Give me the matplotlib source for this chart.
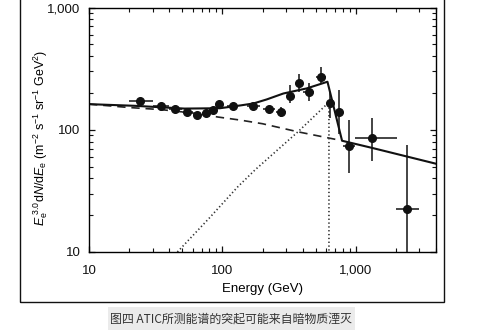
import matplotlib
matplotlib.use("Agg")
import matplotlib.pyplot as plt
from matplotlib.patches import Rectangle
from matplotlib.ticker import LogLocator, FuncFormatter, NullFormatter

plt.rcParams['font.family'] = ['Liberation Sans', 'Noto Sans CJK SC', 'DejaVu Sans']
plt.rcParams['mathtext.fontset'] = 'custom'
plt.rcParams['mathtext.rm'] = 'Liberation Sans'
plt.rcParams['mathtext.it'] = 'Liberation Sans:italic'

# ATIC 数据点 (GeV, m^-2 s^-1 sr^-1 GeV^2)
energy = [24.1, 34.5, 44.2, 54.6, 64.9, 75.5, 84.7, 95, 121, 171, 223, 274,
          324, 374, 445, 547, 646, 751, 892, 1334, 2417]
flux = [173, 155, 146.5, 141, 133, 136, 144.5, 161, 156.7, 156, 147, 141,
        190.6, 242, 204, 269, 167, 139, 73.3, 85.1, 22.3]
e_lo = [20, 30, 40, 50, 60, 70, 80, 90, 108, 152, 203, 253,
        305, 355, 405, 505, 606, 700, 800, 995, 2010]
e_hi = [30, 40, 50, 60, 70, 80, 90, 100, 131, 192, 248, 301,
        345, 395, 488, 600, 689, 800, 995, 2032, 3006]
flux_lo = [167, 150, 142, 137, 129, 132, 140, 156, 151, 150, 136, 127,
           166, 204, 172, 236, 124, 93, 44, 56, 5]
flux_hi = [179, 160, 151, 145, 137, 140, 149, 166, 162, 162, 156, 154,
           232, 285, 239, 327, 204, 211, 120, 124, 74.7]

# 模型曲线
total_e = [10, 22, 52, 96, 136, 171, 215, 287, 430, 614, 790, 1330, 3981]
total_v = [162, 157, 149, 150, 158, 164, 177, 198, 218, 247, 81.3, 71, 52.8]
bkg_e = [10, 20, 35, 60, 93, 136, 200, 372, 764]
bkg_v = [162, 152, 146, 137, 127, 120, 112, 96, 82]
dm_e = [46, 80, 130, 176, 250, 372, 500, 630, 630]
dm_v = [10, 19, 34, 47, 66, 97, 132, 168, 5]

fig = plt.figure(figsize=(4.87, 3.30), dpi=100)
ax = fig.add_axes([89/487, 1-252/330, (436-89)/487, (252-7.5)/330])

ax.plot(bkg_e, bkg_v, color='#222222', lw=1.2, ls=(0, (5, 3.5)))
ax.plot(dm_e, dm_v, color='#333333', lw=1.2, ls=(0, (0.8, 1.5)))
ax.plot(total_e, total_v, color='#111111', lw=1.5)

xerr = [[e - lo for e, lo in zip(energy, e_lo)], [hi - e for e, hi in zip(energy, e_hi)]]
yerr = [[f - lo for f, lo in zip(flux, flux_lo)], [hi - f for f, hi in zip(flux, flux_hi)]]
ax.errorbar(energy, flux, xerr=xerr, yerr=yerr, fmt='o', color='#111111',
            ms=5.5, elinewidth=1.1, capsize=0, zorder=5)

ax.set_xscale('log')
ax.set_yscale('log')
ax.set_xlim(10, 4000)
ax.set_ylim(10, 1000)

fmt = FuncFormatter(lambda v, p: '{:,.0f}'.format(v))
ax.xaxis.set_major_locator(LogLocator(base=10))
ax.yaxis.set_major_locator(LogLocator(base=10))
ax.xaxis.set_major_formatter(fmt)
ax.yaxis.set_major_formatter(fmt)
ax.xaxis.set_minor_formatter(NullFormatter())
ax.yaxis.set_minor_formatter(NullFormatter())
ax.tick_params(which='both', direction='in', top=True, right=True, labelsize=9.5, colors='#111111')
ax.tick_params(which='major', length=4.5, width=0.9)
ax.tick_params(which='minor', length=2.6, width=0.8)
ax.tick_params(axis='x', pad=9)
ax.tick_params(axis='y', pad=6)
for s in ax.spines.values():
    s.set_linewidth(1.0)

ax.set_xlabel('Energy (GeV)', fontsize=9.5, labelpad=5)
ax.set_ylabel(r'$E_{\mathrm{e}}^{\ 3.0}\mathrm{d}N/\mathrm{d}E_{\mathrm{e}}$ (m$^{-2}$ s$^{-1}$ sr$^{-1}$ GeV$^{2}$)',
              fontsize=9, va='center')
ax.yaxis.set_label_coords(-0.138, 0.466)

# 外框
fig.patches.append(Rectangle((19.5/487, 1-302/330), (443.5-19.5)/487, 0.95,
                             transform=fig.transFigure, fill=False, lw=1.0,
                             edgecolor='#111111', clip_on=False))

# 图注
fig.patches.append(Rectangle((108/487, 0), (355-108)/487, (330-307)/330,
                             transform=fig.transFigure, facecolor='#ebebeb',
                             edgecolor='none'))
fig.text(231/487, 1-319/330, '图四 ATIC所测能谱的突起可能来自暗物质湮灭',
         ha='center', va='center', fontsize=8.6, color='#333333',
         family=['Noto Sans CJK SC', 'DejaVu Sans'])

fig.savefig('out.png', dpi=100)
